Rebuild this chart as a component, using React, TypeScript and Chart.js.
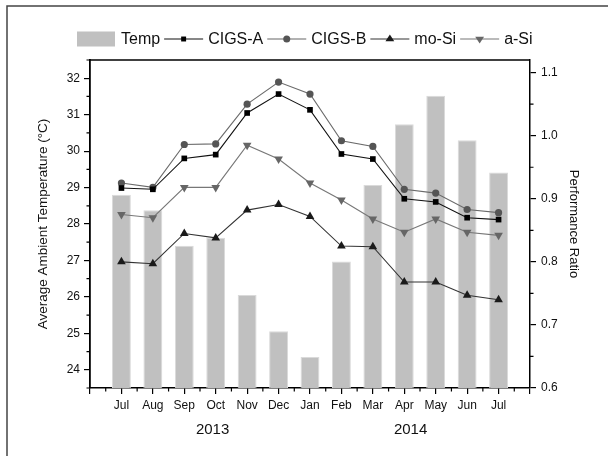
import { useEffect, useRef } from 'react';
import { Chart, registerables } from 'chart.js';

Chart.register(...registerables);

const months = ['Jul', 'Aug', 'Sep', 'Oct', 'Nov', 'Dec', 'Jan', 'Feb', 'Mar', 'Apr', 'May', 'Jun', 'Jul'];
const temp = [28.8, 28.38, 27.4, 27.62, 26.05, 25.06, 24.35, 26.97, 29.07, 30.74, 31.52, 30.3, 29.41];
const cigsA = [0.917, 0.915, 0.964, 0.97, 1.036, 1.066, 1.041, 0.971, 0.963, 0.9, 0.895, 0.87, 0.867];
const cigsB = [0.925, 0.918, 0.986, 0.987, 1.05, 1.085, 1.066, 0.992, 0.983, 0.915, 0.909, 0.883, 0.878];
const moSi = [0.8, 0.797, 0.845, 0.838, 0.882, 0.891, 0.872, 0.825, 0.824, 0.768, 0.768, 0.747, 0.74];
const aSi = [0.875, 0.87, 0.918, 0.918, 0.985, 0.963, 0.925, 0.898, 0.868, 0.847, 0.868, 0.847, 0.842];
const tempTicks = [24, 25, 26, 27, 28, 29, 30, 31, 32];
const ratioTicks = [0.6, 0.7, 0.8, 0.9, 1.0, 1.1];
const years = [
  { label: '2013', at: 2.9 },
  { label: '2014', at: 9.2 },
];

const FONT = '"Liberation Sans", Arial, sans-serif';

const toXY = (arr: number[]) => arr.map((v, i) => ({ x: i, y: v }));

const legendItems = [
  { label: 'Temp', kind: 'box', color: '#c0c0c0' },
  { label: 'CIGS-A', kind: 'line', color: '#000000', line: '#111111', style: 'rect', r: 3.5, rot: 0 },
  { label: 'CIGS-B', kind: 'line', color: '#555555', line: '#666666', style: 'circle', r: 3.5, rot: 0 },
  { label: 'mo-Si', kind: 'line', color: '#1a1a1a', line: '#333333', style: 'triangle', r: 4.5, rot: 0 },
  { label: 'a-Si', kind: 'line', color: '#666666', line: '#777777', style: 'triangle', r: 4.5, rot: 180 },
];

function drawMarker(ctx: CanvasRenderingContext2D, style: string, x: number, y: number, r: number, rot: number, color: string) {
  ctx.save();
  ctx.fillStyle = color;
  ctx.translate(x, y);
  ctx.rotate((rot * Math.PI) / 180);
  ctx.beginPath();
  if (style === 'rect') {
    const s = r * Math.SQRT1_2 * 2;
    ctx.rect(-s / 2, -s / 2, s, s);
  } else if (style === 'circle') {
    ctx.arc(0, 0, r, 0, Math.PI * 2);
  } else {
    ctx.moveTo(0, -r);
    ctx.lineTo(r * 0.866 + 0.5, r * 0.5);
    ctx.lineTo(-r * 0.866 - 0.5, r * 0.5);
    ctx.closePath();
  }
  ctx.fill();
  ctx.restore();
}

const decor = {
  id: 'decor',
  afterDraw(chart: any) {
    const { ctx, chartArea: a, scales } = chart;
    const x = scales.x;
    const y = scales.y;
    const y2 = scales.y2;
    ctx.save();
    // outer frame
    ctx.strokeStyle = '#444';
    ctx.lineWidth = 1.5;
    ctx.beginPath();
    ctx.moveTo(7, 456);
    ctx.lineTo(7, 6);
    ctx.lineTo(608, 6);
    ctx.stroke();
    // top frame line
    ctx.strokeStyle = '#000';
    ctx.lineWidth = 1.5;
    ctx.beginPath();
    ctx.moveTo(a.left, a.top);
    ctx.lineTo(a.right, a.top);
    ctx.stroke();
    // minor ticks
    ctx.lineWidth = 1.2;
    ctx.beginPath();
    for (let v = -0.5; v < 13; v += 1) {
      const px = x.getPixelForValue(v);
      ctx.moveTo(px, a.bottom);
      ctx.lineTo(px, a.bottom + 3.5);
    }
    for (let v = 23.5; v <= 32.5; v += 1) {
      const py = y.getPixelForValue(v);
      ctx.moveTo(a.left, py);
      ctx.lineTo(a.left - 3.5, py);
    }
    for (let k = 0; k < 5; k++) {
      const py = y2.getPixelForValue(0.65 + k * 0.1);
      ctx.moveTo(a.right, py);
      ctx.lineTo(a.right + 3.5, py);
    }
    ctx.stroke();
    // year labels
    ctx.fillStyle = '#111';
    ctx.font = `15px ${FONT}`;
    ctx.textAlign = 'center';
    ctx.textBaseline = 'middle';
    years.forEach((yr) => {
      ctx.fillText(yr.label, x.getPixelForValue(yr.at), 430);
    });
    // legend
    ctx.font = `16px ${FONT}`;
    ctx.textAlign = 'left';
    let cx = 77;
    const cy = 39;
    legendItems.forEach((it: any) => {
      if (it.kind === 'box') {
        ctx.fillStyle = it.color;
        ctx.fillRect(cx, cy - 7.5, 38, 15);
        cx += 38 + 6;
      } else {
        ctx.strokeStyle = it.line;
        ctx.lineWidth = 1.2;
        ctx.beginPath();
        ctx.moveTo(cx, cy);
        ctx.lineTo(cx + 39, cy);
        ctx.stroke();
        drawMarker(ctx, it.style, cx + 19.5, cy, it.r, it.rot, it.color);
        cx += 39 + 5;
      }
      ctx.fillStyle = '#111';
      ctx.fillText(it.label, cx, cy + 1);
      cx += ctx.measureText(it.label).width + 4;
    });
    ctx.restore();
  },
};

export default function App() {
  const ref = useRef<HTMLCanvasElement | null>(null);
  useEffect(() => {
    document.body.style.margin = '0';
    if (!ref.current) return;
    const tickFont = { family: FONT, size: 12 };
    const chart = new Chart(ref.current, {
      type: 'bar',
      data: {
        datasets: [
          {
            type: 'line',
            label: 'CIGS-A',
            data: toXY(cigsA),
            yAxisID: 'y2',
            borderColor: '#111111',
            backgroundColor: '#000000',
            borderWidth: 1.1,
            pointStyle: 'rect',
            pointRadius: 4,
            pointBorderWidth: 0,
            order: 1,
          },
          {
            type: 'line',
            label: 'CIGS-B',
            data: toXY(cigsB),
            yAxisID: 'y2',
            borderColor: '#6a6a6a',
            backgroundColor: '#555555',
            borderWidth: 1.1,
            pointStyle: 'circle',
            pointRadius: 3.6,
            pointBorderWidth: 0,
            order: 2,
          },
          {
            type: 'line',
            label: 'mo-Si',
            data: toXY(moSi),
            yAxisID: 'y2',
            borderColor: '#333333',
            backgroundColor: '#1a1a1a',
            borderWidth: 1.1,
            pointStyle: 'triangle',
            pointRadius: 5,
            pointBorderWidth: 0,
            order: 3,
          },
          {
            type: 'line',
            label: 'a-Si',
            data: toXY(aSi),
            yAxisID: 'y2',
            borderColor: '#777777',
            backgroundColor: '#666666',
            borderWidth: 1.1,
            pointStyle: 'triangle',
            pointRotation: 180,
            pointRadius: 5,
            pointBorderWidth: 0,
            order: 4,
          },
          {
            type: 'bar',
            label: 'Temp',
            data: toXY(temp),
            yAxisID: 'y',
            backgroundColor: '#c0c0c0',
            borderColor: '#dadada',
            borderWidth: 1,
            borderSkipped: 'start',
            barPercentage: 1,
            categoryPercentage: 0.6,
            order: 10,
          },
        ] as any,
      },
      options: {
        responsive: false,
        animation: false,
        layout: { padding: { top: 60, left: 0, right: 0, bottom: 0 } },
        plugins: { legend: { display: false }, tooltip: { enabled: false } },
        scales: {
          x: {
            type: 'linear',
            min: -1,
            max: 13,
            offset: false,
            grid: { display: true, drawOnChartArea: false, drawTicks: true, tickLength: 6, color: '#000', lineWidth: 1.2, offset: false },
            border: { display: true, color: '#000', width: 1.5 },
            ticks: {
              stepSize: 1,
              autoSkip: false,
              maxRotation: 0,
              padding: 4,
              color: '#111',
              font: tickFont,
              callback: (v: any) => {
                const i = Math.round(Number(v));
                return i >= 0 && i < months.length && Math.abs(Number(v) - i) < 1e-6 ? months[i] : '';
              },
            },
            afterFit: (s: any) => {
              s.height = 68;
            },
          },
          y: {
            type: 'linear',
            position: 'left',
            min: 23.5,
            max: 32.5,
            grid: { display: true, drawOnChartArea: false, drawTicks: true, tickLength: 6, color: '#000', lineWidth: 1.2 },
            border: { display: true, color: '#000', width: 1.8 },
            ticks: { padding: 4, color: '#111', font: tickFont, callback: (v: any) => String(v) },
            afterBuildTicks: (s: any) => {
              s.ticks = tempTicks.map((v) => ({ value: v }));
            },
            title: {
              display: true,
              text: 'Average Ambient Temperature (°C)',
              color: '#111',
              font: { family: FONT, size: 13.5 },
              padding: { top: 35, bottom: 0 },
            },
            afterFit: (s: any) => {
              s.width = 90;
            },
          },
          y2: {
            type: 'linear',
            position: 'right',
            min: 0.6,
            max: 1.12,
            grid: { display: true, drawOnChartArea: false, drawTicks: true, tickLength: 6, color: '#000', lineWidth: 1.2 },
            border: { display: true, color: '#000', width: 1.5 },
            ticks: {
              padding: 5,
              color: '#111',
              font: tickFont,
              callback: (v: any) => Number(v).toFixed(1),
            },
            afterBuildTicks: (s: any) => {
              s.ticks = ratioTicks.map((v) => ({ value: v }));
            },
            title: {
              display: true,
              text: 'Performance Ratio',
              color: '#111',
              font: { family: FONT, size: 13 },
              padding: { top: 27, bottom: 0 },
            },
            afterFit: (s: any) => {
              s.width = 78;
            },
          },
        },
      } as any,
      plugins: [decor],
    });
    return () => chart.destroy();
  }, []);
  return (
    <div style={{ width: 608, height: 456, background: '#fff' }}>
      <canvas ref={ref} width={608} height={456} style={{ display: 'block', width: 608, height: 456 }} />
    </div>
  );
}
